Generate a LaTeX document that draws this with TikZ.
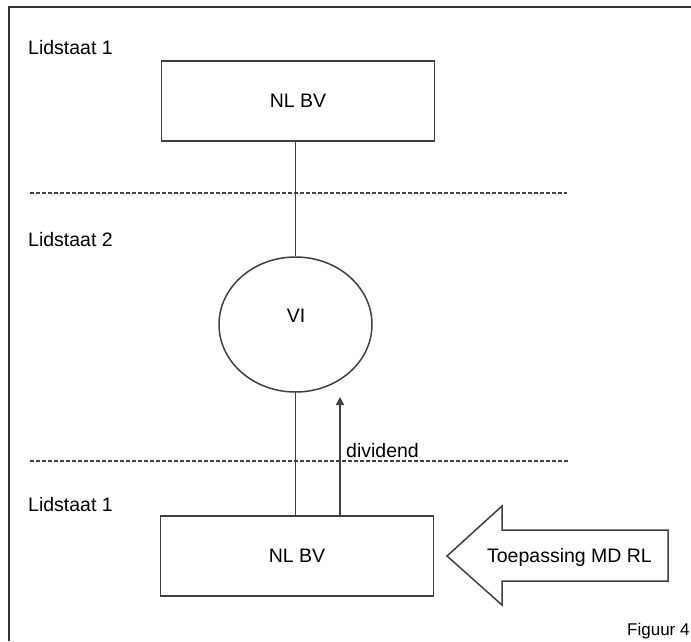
\documentclass[tikz,border=0pt]{standalone}
\usepackage{fontspec}
\setmainfont{Liberation Sans}
\usetikzlibrary{arrows.meta,shapes.geometric}
\definecolor{ink}{HTML}{404040}
\begin{document}
\begin{tikzpicture}[x=1pt,y=-1pt,
  lbl/.style={font=\fontsize{19.5}{23}\selectfont, text=black, inner sep=0pt},
  entity/.style={draw=ink, line width=1.8pt, rectangle, inner sep=0pt,
                 minimum width=273pt, minimum height=80pt,
                 font=\fontsize{19.5}{23}\selectfont},
  link/.style={draw=ink, line width=1.5pt},
  border/.style={draw=ink!80!black, line width=2pt},
  divider/.style={draw=ink, line width=1.5pt, dash pattern=on 4pt off 2pt}]
\useasboundingbox (0,0) rectangle (691,641);

% outer frame (top and left edges)
\draw[border] (9,641) -- (9,7) -- (691,7);

% member-state dividers
\draw[divider] (30,193) -- (567,193);
\draw[divider] (30,461) -- (568,461);

% member-state labels
\node[lbl, anchor=west] (ls1a) at (28,48) {Lidstaat 1};
\node[lbl, anchor=west] (ls2) at (28,240) {Lidstaat 2};
\node[lbl, anchor=west] (ls1b) at (28,505) {Lidstaat 1};

% entities
\node[entity] (top) at (298,101) {NL BV};
\node[draw=ink, line width=1.5pt, ellipse, inner sep=0pt,
      minimum width=153pt, minimum height=135pt] (vi) at (295.5,324.5) {};
\node[lbl] (vilbl) at (296,316) {VI};
\node[entity] (bot) at (297,556) {NL BV};

% connections
\draw[link] (top.south -| vi.north) -- (vi.north);
\draw[link] (vi.south) -- (vi.south |- bot.north);
\coordinate (divtip) at (340,397);
\draw[link, -{Triangle[length=8pt,width=8pt]}] (divtip |- bot.north) -- (divtip);
\node[lbl, anchor=west] (div) at (346,451) {dividend};

% block arrow pointing at the lower entity
\draw[draw=ink, line width=1.5pt, line join=miter, fill=white]
  (447,556) -- (502,506) -- (502,530) -- (668,530) -- (668,581)
  -- (502,581) -- (502,605) -- cycle;
\node[lbl] (md) at (569.5,557) {Toepassing MD RL};

% figure number
\node[font=\fontsize{17}{20}\selectfont, anchor=west, inner sep=0pt] (fig) at (627,631) {Figuur 4};
\end{tikzpicture}
\end{document}
